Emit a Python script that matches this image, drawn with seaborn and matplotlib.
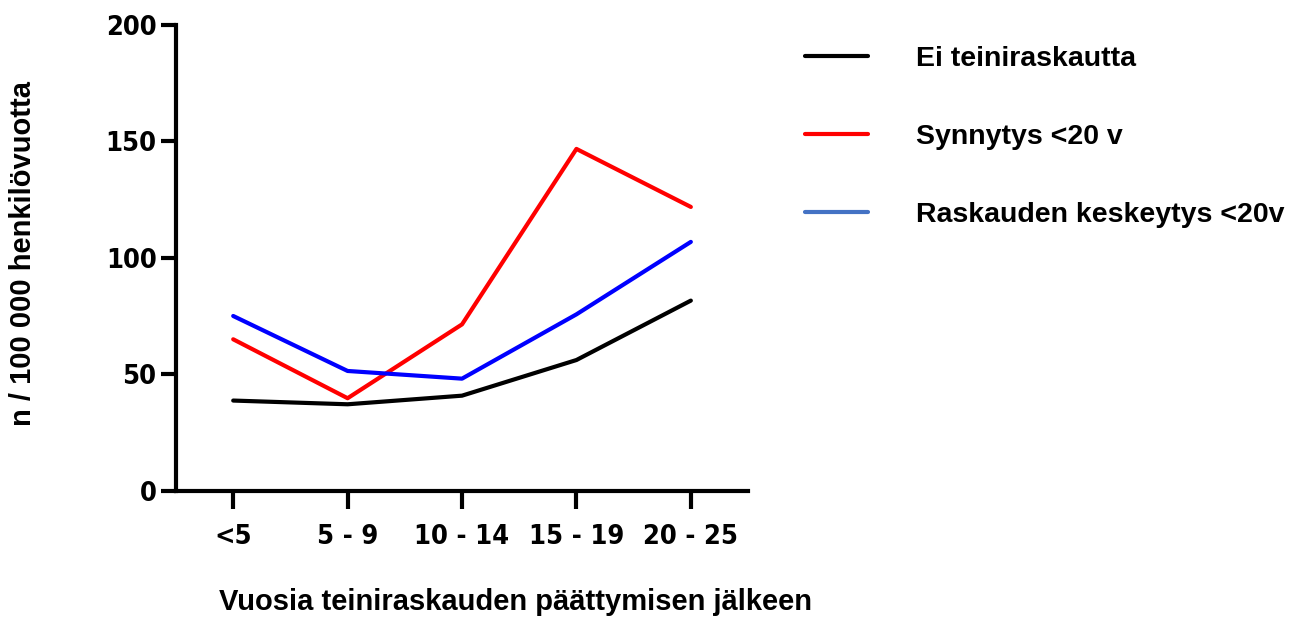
import pandas as pd
import matplotlib.pyplot as plt
import seaborn as sns
from matplotlib.lines import Line2D

# data
periods = ['<5', '5 - 9', '10 - 14', '15 - 19', '20 - 25']
ei_teiniraskautta = [38.8, 37.2, 40.9, 56.2, 81.7]
synnytys = [65.1, 39.8, 71.5, 146.8, 121.9]
keskeytys = [75.1, 51.5, 48.2, 75.8, 106.9]

series_names = ['Ei teiniraskautta', 'Synnytys <20 v', 'Raskauden keskeytys <20v']
line_colors = ['#000000', '#ff0000', '#0000ff']
legend_colors = ['#000000', '#ff0000', '#4472c4']

rows = []
for name, values in zip(series_names, [ei_teiniraskautta, synnytys, keskeytys]):
    for p, v in zip(periods, values):
        rows.append({'period': p, 'rate': v, 'group': name})
df = pd.DataFrame(rows)

sns.set_style('ticks')
plt.rcParams['font.family'] = ['Liberation Sans', 'DejaVu Sans']
plt.rcParams['font.weight'] = 'bold'
plt.rcParams['text.color'] = 'black'

fig = plt.figure(figsize=(12.96, 6.21), dpi=100)
ax = fig.add_axes([0.1358, 0.2094, 0.4414, 0.7504])

sns.lineplot(data=df, x='period', y='rate', hue='group', hue_order=series_names,
             palette=line_colors, linewidth=3, legend=False, ax=ax, sort=False)

ax.set_xlim(-0.5, 4.5)
ax.set_ylim(0, 200)
ax.set_yticks([0, 50, 100, 150, 200])

sns.despine(ax=ax)
for side in ['left', 'bottom']:
    ax.spines[side].set_linewidth(3)
    ax.spines[side].set_color('black')
ax.tick_params(axis='y', length=11, width=3, color='black', pad=3)
ax.tick_params(axis='x', length=13, width=3, color='black', pad=11)

# tall narrow tick labels, as in the original
for lab in ax.get_xticklabels() + ax.get_yticklabels():
    lab.set_fontfamily('DejaVu Sans')
    lab.set_fontstretch('condensed')
    lab.set_fontsize(19.5)
    lab.set_fontweight('bold')
    lab.set_color('black')

ax.set_xlabel('Vuosia teiniraskauden päättymisen jälkeen', fontsize=21,
              fontweight='bold', color='black')
ax.set_ylabel('n / 100 000 henkilövuotta', fontsize=21, fontweight='bold',
              color='black')
ax.xaxis.set_label_coords(0.594, -0.208)
ax.yaxis.set_label_coords(-0.243, 0.51)

# legend
handles = [Line2D([0], [0], color=c, linewidth=3) for c in legend_colors]
leg = fig.legend(handles, series_names, loc='upper left', bbox_to_anchor=(0.6015, 0.967),
                 frameon=False, handlelength=2.2, handletextpad=1.7,
                 labelspacing=1.83, prop={'weight': 'bold', 'size': 20.5})
for t in leg.get_texts():
    t.set_color('black')

fig.savefig('out.png', dpi=100)
